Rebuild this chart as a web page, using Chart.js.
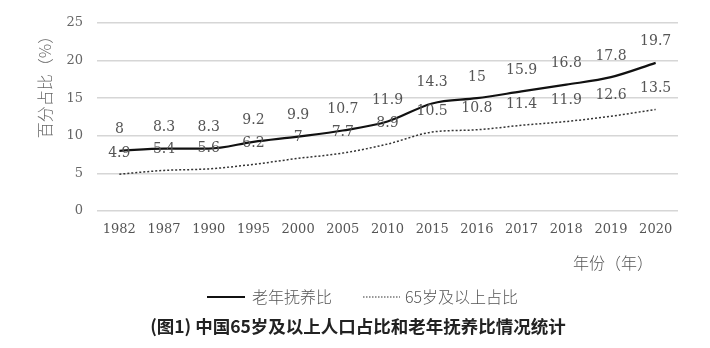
<!DOCTYPE html>
<html>
<head>
<meta charset="utf-8">
<script src="https://cdn.jsdelivr.net/npm/chart.js@4/dist/chart.umd.min.js"></script>
<style>
  html, body { margin: 0; padding: 0; background: #fff; }
  #wrap { width: 710px; height: 348px; }
</style>
</head>
<body>
<div id="wrap"><canvas id="chart-ratio" width="710" height="348"></canvas></div>
<script>
// 年份
var years = ["1982", "1987", "1990", "1995", "2000", "2005", "2010", "2015", "2016", "2017", "2018", "2019", "2020"];
// 老年抚养比 (%)
var dependency = [8, 8.3, 8.3, 9.2, 9.9, 10.7, 11.9, 14.3, 15, 15.9, 16.8, 17.8, 19.7];
// 65岁及以上占比 (%)
var over65 = [4.9, 5.4, 5.6, 6.2, 7, 7.7, 8.9, 10.5, 10.8, 11.4, 11.9, 12.6, 13.5];
var yTicks = [0, 5, 10, 15, 20, 25];

var serif = "'DejaVu Serif', 'Liberation Serif', serif";
var cjk = "'Noto Sans CJK SC', 'Noto Sans', sans-serif";

// 数值标签、坐标轴标题、图例和图注
var annotate = {
  id: "annotate",
  afterDatasetsDraw(chart) {
    var ctx = chart.ctx;
    ctx.save();
    ctx.fillStyle = "#555";
    ctx.font = "14px " + serif;
    ctx.textAlign = "center";
    ctx.textBaseline = "middle";
    chart.data.datasets.forEach(function (ds, i) {
      var meta = chart.getDatasetMeta(i);
      meta.data.forEach(function (pt, j) {
        ctx.fillText(String(ds.data[j]), pt.x, pt.y - 21);
      });
    });
    ctx.restore();
  },
  afterDraw(chart) {
    var ctx = chart.ctx;
    ctx.save();
    ctx.textBaseline = "middle";

    // y轴标题
    ctx.save();
    ctx.translate(45, 83);
    ctx.rotate(-Math.PI / 2);
    ctx.fillStyle = "#666";
    ctx.font = "300 16px " + cjk;
    ctx.textAlign = "center";
    ctx.fillText("百分占比（%）", 0, 0);
    ctx.restore();

    // x轴标题
    ctx.fillStyle = "#555";
    ctx.font = "300 16px " + cjk;
    ctx.textAlign = "center";
    ctx.fillText("年份（年）", 613, 263);

    // 图例
    ctx.textAlign = "left";
    ctx.strokeStyle = "#111";
    ctx.lineWidth = 2;
    ctx.beginPath();
    ctx.moveTo(207, 297);
    ctx.lineTo(245, 297);
    ctx.stroke();
    ctx.fillText("老年抚养比", 252, 297);

    ctx.strokeStyle = "#333";
    ctx.lineWidth = 1.2;
    ctx.setLineDash([1.5, 1.5]);
    ctx.beginPath();
    ctx.moveTo(363, 297);
    ctx.lineTo(400, 297);
    ctx.stroke();
    ctx.setLineDash([]);
    ctx.fillText("65岁及以上占比", 405, 297);

    // 图注
    ctx.fillStyle = "#222";
    ctx.font = "bold 17.5px " + cjk;
    ctx.textAlign = "center";
    ctx.fillText("(图1) 中国65岁及以上人口占比和老年抚养比情况统计", 358, 326);
    ctx.restore();
  },
};

var ctx = document.getElementById("chart-ratio").getContext("2d");
var myChart = new Chart(ctx, {
  type: "line",
  data: {
    labels: years,
    datasets: [
      {
        label: "老年抚养比",
        data: dependency,
        borderColor: "#111",
        borderWidth: 2.2,
        pointRadius: 0,
        cubicInterpolationMode: "monotone",
      },
      {
        label: "65岁及以上占比",
        data: over65,
        borderColor: "#333",
        borderWidth: 1.5,
        borderDash: [2, 2],
        pointRadius: 0,
        cubicInterpolationMode: "monotone",
      },
    ],
  },
  options: {
    responsive: false,
    animation: false,
    layout: {
      padding: { top: 23, right: 32, left: 0, bottom: 0 },
    },
    plugins: {
      legend: { display: false },
      tooltip: { enabled: false },
    },
    scales: {
      x: {
        offset: true,
        grid: { display: false, drawTicks: false },
        border: { display: false },
        ticks: {
          color: "#555",
          font: { family: serif, size: 13 },
          padding: 11,
          maxRotation: 0,
          autoSkip: false,
        },
        afterFit(scale) {
          scale.height = 137;
        },
      },
      y: {
        min: 0,
        max: 25,
        afterBuildTicks(scale) {
          scale.ticks = yTicks.map(function (v) { return { value: v }; });
        },
        grid: { color: "#d6d6d6", lineWidth: 1.6, drawTicks: false },
        border: { display: false },
        ticks: {
          color: "#666",
          font: { family: serif, size: 13 },
          padding: 14,
        },
        afterFit(scale) {
          scale.width = 97;
        },
      },
    },
  },
  plugins: [annotate],
});
</script>
</body>
</html>
